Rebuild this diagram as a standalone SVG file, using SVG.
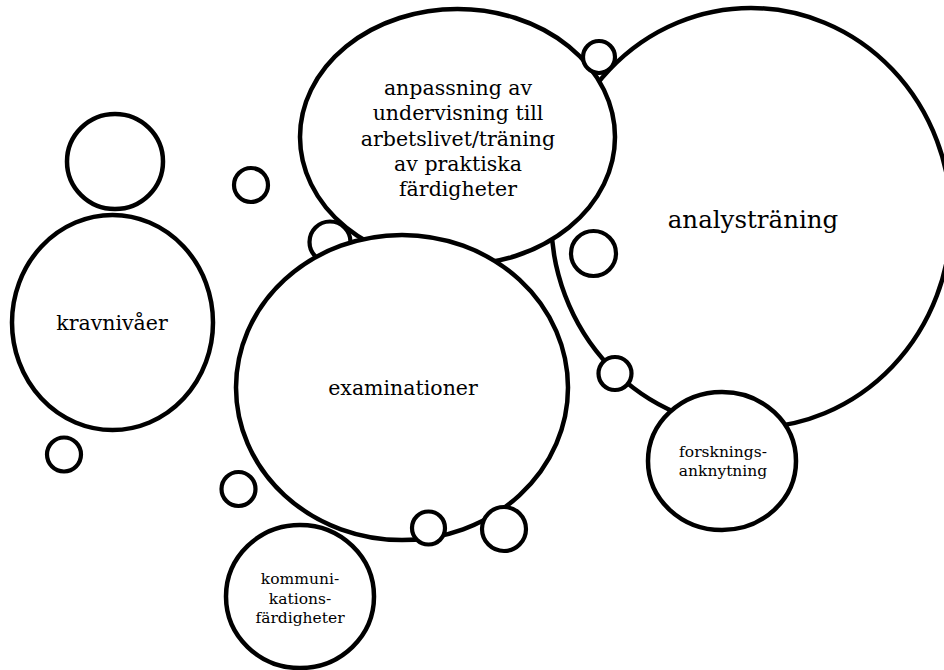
<svg xmlns="http://www.w3.org/2000/svg" width="944" height="670" viewBox="0 0 944 670">
<style>
.c{fill:#fff;stroke:#000;stroke-width:4.5}
.s{fill:#fff;stroke:#000;stroke-width:4.2}
text{font-family:"DejaVu Serif","Liberation Serif",serif;fill:#000;text-anchor:middle}
.t20{font-size:20.5px}
.t24{font-size:24.5px}
.t15{font-size:15.5px}
</style>
<rect width="944" height="670" fill="#fff"/>
<g id="connectors"></g>
<g id="analystraning">
<ellipse class="c" cx="751" cy="218" rx="200" ry="210"/>
<text class="t24" x="753" y="228">analysträning</text>
</g>
<g id="anpassning">
<ellipse class="c" cx="457.5" cy="137" rx="157.5" ry="128"/>
<text class="t20" x="458" y="95">anpassning av</text>
<text class="t20" x="458" y="120">undervisning till</text>
<text class="t20" x="458" y="145.5">arbetslivet/träning</text>
<text class="t20" x="458" y="170.5">av praktiska</text>
<text class="t20" x="458" y="195.5">färdigheter</text>
</g>
<g id="dot-top"><circle class="s" cx="599" cy="57" r="16"/></g>
<g id="dot-analys"><circle class="s" cx="593.5" cy="253.5" r="22.5"/></g>
<g id="dot-analys-edge"><circle class="s" cx="615" cy="373.5" r="16.5"/></g>
<g id="forskning">
<ellipse class="c" cx="722" cy="461" rx="74" ry="69"/>
<text class="t15" x="723" y="457">forsknings-</text>
<text class="t15" x="723" y="476">anknytning</text>
</g>
<g id="dot-anp-left"><circle class="s" cx="330" cy="242" r="20.5"/></g>
<g id="examinationer">
<ellipse class="c" cx="402" cy="387.5" rx="166" ry="152.5"/>
<text class="t20" x="403" y="395">examinationer</text>
</g>
<g id="dot-exam-bottom1"><circle class="s" cx="428.5" cy="528" r="16.5"/></g>
<g id="dot-exam-bottom2"><circle class="s" cx="504" cy="529" r="22"/></g>
<g id="dot-exam-left"><circle class="s" cx="238.5" cy="489" r="17"/></g>
<g id="kommunikation">
<ellipse class="c" cx="300" cy="596.5" rx="74" ry="71.5"/>
<text class="t15" x="300" y="584">kommuni-</text>
<text class="t15" x="300" y="604">kations-</text>
<text class="t15" x="300" y="623">färdigheter</text>
</g>
<g id="krav-top"><ellipse class="c" cx="115" cy="161.5" rx="48" ry="47.5"/></g>
<g id="kravnivaer">
<ellipse class="c" cx="112.5" cy="322.5" rx="100.5" ry="107.5"/>
<text class="t20" x="112" y="330">kravnivåer</text>
</g>
<g id="dot-mid"><circle class="s" cx="251" cy="185" r="17"/></g>
<g id="dot-left"><circle class="s" cx="64" cy="454.5" r="17"/></g>
</svg>
